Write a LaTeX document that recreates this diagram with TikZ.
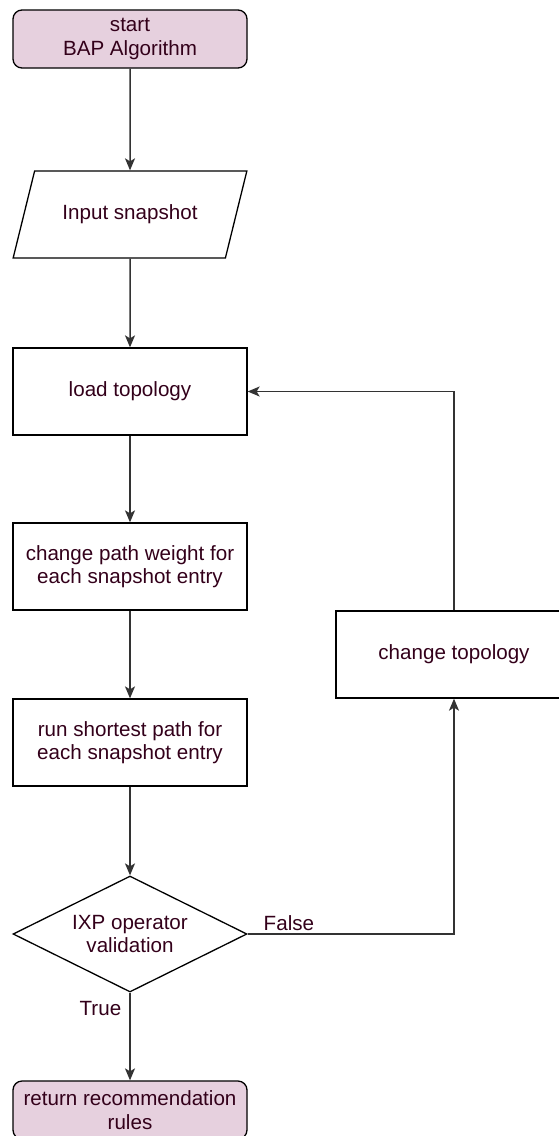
\documentclass[tikz,border=0pt]{standalone}
\usepackage{fontspec}
\setmainfont{Liberation Sans}
\usetikzlibrary{shapes.geometric,arrows.meta}
\definecolor{termfill}{HTML}{E6D0DE}
\definecolor{textcol}{HTML}{33001A}
\definecolor{linecol}{HTML}{333333}
\begin{document}
\begin{tikzpicture}[>={Stealth[length=12pt,width=10pt,inset=3pt]},x=1pt,y=-1pt,
	every node/.style={font=\fontsize{20.6}{23.5}\selectfont,text=textcol,align=center},
	base/.style={draw=black,line width=1.3pt,inner sep=2pt},
	term/.style={base,fill=termfill,rounded corners=9pt,minimum width=234pt,minimum height=58pt},
	proc/.style={base,minimum width=234pt,minimum height=87pt},
	io/.style={base,trapezium,trapezium left angle=56,trapezium right angle=124,trapezium stretches=true,minimum width=234pt,minimum height=87pt},
	decision/.style={base,diamond,aspect=2,inner sep=0pt,minimum width=234pt,minimum height=116pt},
	link/.style={->,draw=linecol,line width=1.5pt}]
	\useasboundingbox (0,0) rectangle (558,1136);
	\node[term] (start) at (130,39) {start\\BAP Algorithm};
	\node[io] (input) at (130,214.5) {Input snapshot};
	\node[proc] (load) at (130,391.5) {load topology};
	\node[proc] (weight) at (130,566.5) {change path weight for\\each snapshot entry};
	\node[proc] (shortest) at (130,742.5) {run shortest path for\\each snapshot entry};
	\node[decision] (valid) at (130,934) {IXP operator\\validation};
	\node[term] (ret) at (130,1110) {return recommendation\\rules};
	\node[proc,minimum width=236pt] (change) at (454,654.5) {change topology};
	\draw[link] (start) -- (input);
	\draw[link] (input) -- (load);
	\draw[link] (load) -- (weight);
	\draw[link] (weight) -- (shortest);
	\draw[link] (shortest) -- (valid);
	\draw[link] (valid) -- node[pos=0.18,left,inner sep=8pt]{True} (ret);
	\draw[link] (valid.east) -| node[pos=0.1,above,inner sep=3pt]{False} (change.south);
	\draw[link] (change.north) |- (load.east);
\end{tikzpicture}
\end{document}
